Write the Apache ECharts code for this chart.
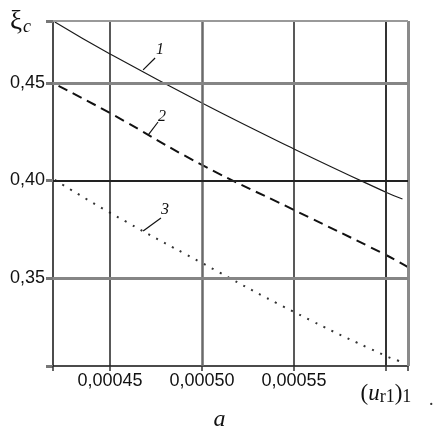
<!DOCTYPE html>
<html>
<head>
<meta charset="utf-8">
<script src="https://cdn.jsdelivr.net/npm/echarts@6/dist/echarts.min.js"></script>
<style>
  html, body { margin: 0; padding: 0; background: #fff; }
  #chart { width: 439px; height: 430px; }
</style>
</head>
<body>
<div id="chart"></div>
<script>
// ---- data ----
const curve1 = [[0.000420, 0.4813], [0.00045, 0.4649], [0.00050, 0.4397], [0.00055, 0.4162], [0.00060, 0.3940], [0.000609, 0.3905]];
const curve2 = [[0.000422, 0.4485], [0.00045, 0.4346], [0.00050, 0.4080], [0.00055, 0.3849], [0.00060, 0.3618], [0.000612, 0.3556]];
const curve3 = [[0.000420, 0.4003], [0.00045, 0.3835], [0.00050, 0.3577], [0.00055, 0.3326], [0.00060, 0.3100], [0.000609, 0.3069]];
const curveNames = ['1', '2', '3'];

const xTicks = [0.00045, 0.00050, 0.00055, 0.00060];
const xTickLabels = ['0,00045', '0,00050', '0,00055', ''];
const yTicks = [0.35, 0.40, 0.45];
const yTickLabels = ['0,35', '0,40', '0,45'];

const xRange = [0.000419, 0.000612];
const yRange = [0.30487, 0.4818];

// annotation anchors (data coordinates): leader start, leader end, label position
const leaders = [
  [[0.000468, 0.4567], [0.0004745, 0.4628], [0.0004772, 0.4669]],
  [[0.0004707, 0.4233], [0.0004761, 0.4300], [0.0004783, 0.4326]],
  [[0.000468, 0.3741], [0.0004777, 0.3808], [0.0004799, 0.3849]]
];

// ---- chart ----
const chart = echarts.init(document.getElementById('chart'), null, { renderer: 'canvas' });

function near(a, b) { return Math.abs(a - b) < 1e-9; }

const gridLines = [
  { xAxis: xTicks[0], lineStyle: { color: '#222', width: 1.5, type: 'solid' } },
  { xAxis: xTicks[1], lineStyle: { color: '#6a6a6a', width: 2.5, type: 'solid' } },
  { xAxis: xTicks[2], lineStyle: { color: '#222', width: 1.5, type: 'solid' } },
  { xAxis: xTicks[3], lineStyle: { color: '#333', width: 2, type: 'solid' } },
  { xAxis: xRange[1], lineStyle: { color: '#8a8a8a', width: 3, type: 'solid' } },
  { yAxis: yTicks[0], lineStyle: { color: '#858585', width: 3, type: 'solid' } },
  { yAxis: yTicks[1], lineStyle: { color: '#222', width: 2, type: 'solid' } },
  { yAxis: yTicks[2], lineStyle: { color: '#858585', width: 3, type: 'solid' } },
  { yAxis: yRange[1], lineStyle: { color: '#999', width: 2, type: 'solid' } }
];

const annotationSeries = leaders.map((l, i) => ({
  type: 'line',
  data: [l[0], l[1]],
  symbol: 'none',
  silent: true,
  z: 5,
  lineStyle: { color: '#111', width: 1.2 },
  markPoint: {
    symbol: 'circle', symbolSize: 1,
    itemStyle: { color: 'rgba(0,0,0,0)' },
    label: {
      show: true, formatter: curveNames[i], position: 'inside',
      fontFamily: 'Liberation Serif', fontStyle: 'italic', fontSize: 16, color: '#111'
    },
    data: [{ coord: l[2] }]
  }
}));

const option = {
  animation: false,
  backgroundColor: '#fff',
  title: [
    {
      text: '{x|ξ}{c|c}', left: 5, top: 3,
      textStyle: {
        fontWeight: 'normal',
        rich: {
          x: { fontFamily: 'Liberation Serif', fontWeight: 'normal', fontSize: 27, color: '#111' },
          c: { fontFamily: 'Liberation Serif', fontStyle: 'italic', fontWeight: 'normal', fontSize: 18, color: '#111', padding: [10, 0, 0, 1] }
        }
      }
    },
    {
      text: 'a', left: 'center', top: 403,
      textStyle: { fontFamily: 'Liberation Serif', fontStyle: 'italic', fontWeight: 'normal', fontSize: 24, color: '#111' }
    },
    {
      text: '.', left: 424, top: 386,
      textStyle: { fontFamily: 'Liberation Serif', fontWeight: 'normal', fontSize: 18, color: '#333' }
    }
  ],
  grid: { left: 53, top: 21, right: 31, bottom: 64, containLabel: false },
  xAxis: {
    type: 'value',
    min: xRange[0], max: xRange[1],
    splitNumber: 4,
    splitLine: { show: false },
    axisLine: { show: true, onZero: false, lineStyle: { color: '#111', width: 1.5 } },
    axisTick: { show: true, length: 5, lineStyle: { color: '#333', width: 1.5 } },
    axisLabel: {
      customValues: xTicks,
      margin: 6,
      fontFamily: 'Liberation Sans', fontSize: 18, color: '#111',
      formatter: function (v) {
        for (let i = 0; i < xTicks.length; i++) {
          if (near(v, xTicks[i])) {
            if (i === xTicks.length - 1) return '{p|(}{u|u}{s|r1}{p|)}{s|1}';
            return xTickLabels[i];
          }
        }
        return '';
      },
      rich: {
        p: { fontFamily: 'Liberation Serif', fontSize: 23, color: '#111', padding: [9, 0, 0, 0] },
        u: { fontFamily: 'Liberation Serif', fontStyle: 'italic', fontSize: 23, color: '#111', padding: [9, 0, 0, 0] },
        s: { fontFamily: 'Liberation Serif', fontSize: 18, color: '#111', padding: [16, 0, 0, 0] }
      }
    }
  },
  yAxis: {
    type: 'value',
    min: yRange[0], max: yRange[1],
    splitNumber: 4,
    splitLine: { show: false },
    axisLine: { show: true, onZero: false, lineStyle: { color: '#111', width: 1.5 } },
    axisTick: { show: true, length: 7, lineStyle: { color: '#777', width: 3 } },
    axisLabel: {
      customValues: yTicks,
      margin: 8,
      fontFamily: 'Liberation Sans', fontSize: 18, color: '#111',
      formatter: function (v) {
        for (let i = 0; i < yTicks.length; i++) {
          if (near(v, yTicks[i])) return yTickLabels[i];
        }
        return '';
      }
    }
  },
  series: [
    {
      type: 'line', data: [], z: 1, silent: true,
      markLine: { silent: true, symbol: 'none', precision: 10, label: { show: false }, animation: false, data: gridLines }
    },
    {
      name: curveNames[0], type: 'line', data: curve1, smooth: true, symbol: 'none', z: 3,
      lineStyle: { color: '#1a1a1a', width: 1.2, type: 'solid' }
    },
    {
      name: curveNames[1], type: 'line', data: curve2, smooth: true, symbol: 'none', z: 3,
      lineStyle: { color: '#111', width: 2, type: [10, 6] }
    },
    {
      name: curveNames[2], type: 'line', data: curve3, smooth: true, symbol: 'none', z: 3,
      lineStyle: { color: '#333', width: 2, type: [2, 7] }
    }
  ].concat(annotationSeries)
};

chart.setOption(option);
</script>
</body>
</html>
